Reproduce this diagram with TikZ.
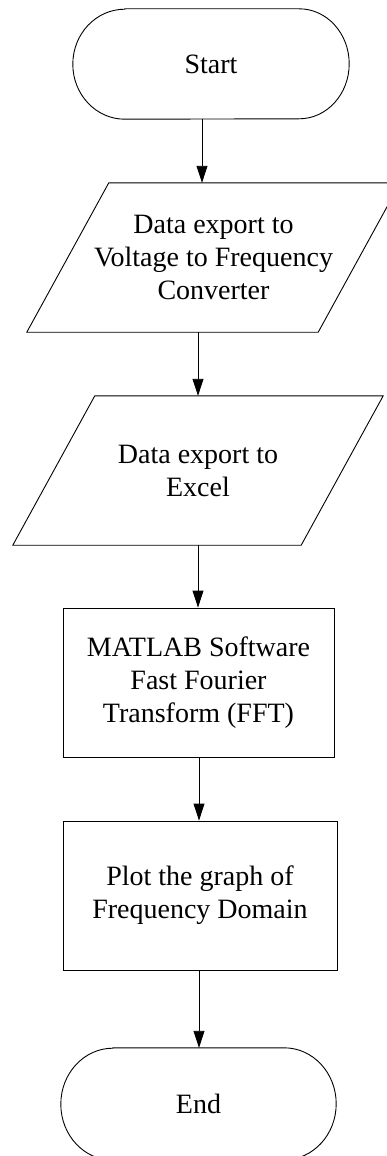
\documentclass[tikz,border=0pt]{standalone}
\usepackage{fontspec}
\setmainfont{Liberation Serif}
\usetikzlibrary{arrows.meta}
\begin{document}
\begin{tikzpicture}[x=1pt,y=1pt,
  lbl/.style={inner sep=0pt, align=center, font=\fontsize{28}{33}\selectfont},
  boxn/.style={lbl, draw, line width=0.9pt},
  shp/.style={line width=0.9pt},
  arr/.style={line width=0.9pt, -{Triangle[length=17pt,width=11pt]}}]
\useasboundingbox (0,0) rectangle (387,-1156);
\clip (0,0) rectangle (387,-1156);
% Start terminal
\node[lbl, minimum width=276pt, minimum height=110pt] (s) at (211,-64) {Start};
\draw[shp] ([xshift=52]s.north west) -- ([xshift=-50]s.north east)
  arc[start angle=90, end angle=-90, x radius=50, y radius=55]
  -- ([xshift=52]s.south west)
  arc[start angle=270, end angle=90, x radius=52, y radius=55] -- cycle;
% Parallelogram 1
\node[lbl, minimum width=373pt, minimum height=149pt] (p1) at (213.5,-257.5)
  {Data export to\\Voltage to Frequency\\Converter};
\draw[shp] ([xshift=82]p1.north west) -- (p1.north east)
  -- ([xshift=-82]p1.south east) -- (p1.south west) -- cycle;
% Parallelogram 2
\node[lbl, minimum width=370pt, minimum height=149pt] (p2) at (198,-470.5)
  {Data export to\\Excel};
\draw[shp] ([xshift=82]p2.north west) -- (p2.north east)
  -- ([xshift=-82]p2.south east) -- (p2.south west) -- cycle;
% Rectangles
\node[boxn, minimum width=271pt, minimum height=149pt] (r1) at (198.5,-682.5)
  {MATLAB Software\\Fast Fourier\\Transform (FFT)};
\node[boxn, minimum width=274pt, minimum height=149pt] (r2) at (200,-895.5)
  {Plot the graph of\\Frequency Domain};
% End terminal
\node[lbl, minimum width=275pt, minimum height=112pt] (e) at (198.5,-1104) {End};
\draw[shp] ([xshift=52]e.north west) -- ([xshift=-52]e.north east)
  arc[start angle=90, end angle=-90, x radius=52, y radius=56]
  -- ([xshift=52]e.south west)
  arc[start angle=270, end angle=90, x radius=52, y radius=56] -- cycle;
% Connectors
\coordinate (c1) at (202,0);
\coordinate (c2) at (198,0);
\coordinate (c3) at (199,0);
\draw[arr] (s.south -| c1) -- (p1.north -| c1);
\draw[arr] (p1.south -| c2) -- (p2.north -| c2);
\draw[arr] (p2.south -| c2) -- (r1.north -| c2);
\draw[arr] (r1.south -| c3) -- (r2.north -| c3);
\draw[arr] (r2.south -| c3) -- (e.north -| c3);
\end{tikzpicture}
\end{document}
